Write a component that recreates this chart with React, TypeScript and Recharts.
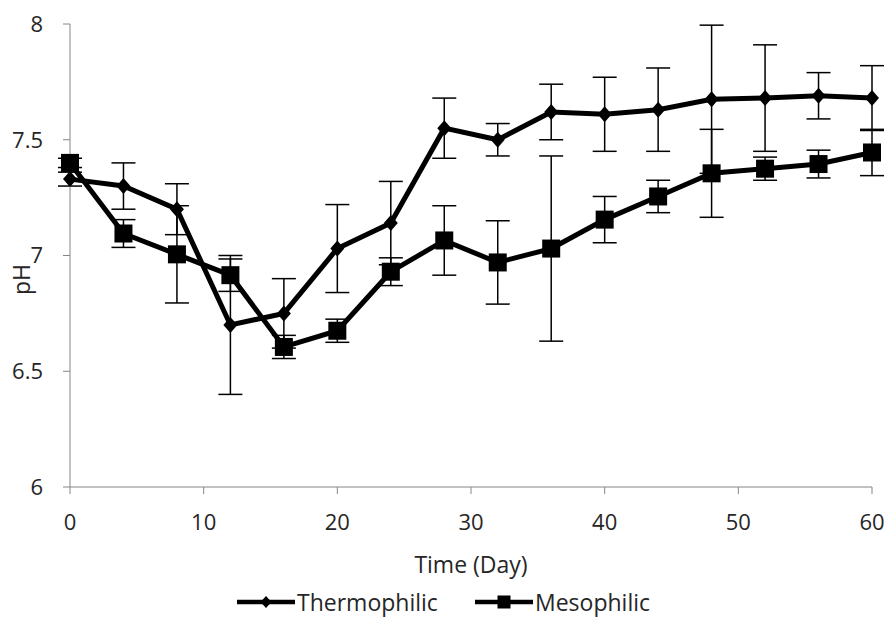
import React from 'react';
import {
  LineChart,
  Line,
  XAxis,
  YAxis,
  ErrorBar,
  Legend,
} from 'recharts';

const days = [0, 4, 8, 12, 16, 20, 24, 28, 32, 36, 40, 44, 48, 52, 56, 60];
const thermophilic = [7.33, 7.3, 7.2, 6.7, 6.75, 7.03, 7.14, 7.55, 7.5, 7.62, 7.61, 7.63, 7.675, 7.68, 7.69, 7.68];
const thermophilicErr = [0.03, 0.1, 0.11, 0.3, 0.15, 0.19, 0.18, 0.13, 0.07, 0.12, 0.16, 0.18, 0.32, 0.23, 0.1, 0.14];
const mesophilic = [7.4, 7.095, 7.005, 6.915, 6.605, 6.675, 6.93, 7.065, 6.97, 7.03, 7.155, 7.255, 7.355, 7.375, 7.395, 7.445];
const mesophilicErr = [0.02, 0.06, 0.21, 0.07, 0.05, 0.05, 0.06, 0.15, 0.18, 0.4, 0.1, 0.07, 0.19, 0.05, 0.06, 0.1];
const xTicks = [0, 10, 20, 30, 40, 50, 60];
const yTicks = [6, 6.5, 7, 7.5, 8];

const data = days.map((day, i) => ({
  day,
  thermo: thermophilic[i],
  thermoErr: thermophilicErr[i],
  meso: mesophilic[i],
  mesoErr: mesophilicErr[i],
}));

const FONT = '"Open Sans", sans-serif';
const AXIS = '#868686';
const TEXT = '#262626';

const Diamond = (props: any) => {
  const { cx, cy, index } = props;
  if (cx == null || cy == null) return <g key={index} />;
  return (
    <polygon
      key={index}
      points={`${cx},${cy - 8} ${cx + 7},${cy} ${cx},${cy + 8} ${cx - 7},${cy}`}
      fill="#000"
    />
  );
};

const Square = (props: any) => {
  const { cx, cy, index } = props;
  if (cx == null || cy == null) return <g key={index} />;
  return <rect key={index} x={cx - 9} y={cy - 9} width={18} height={18} fill="#000" />;
};

const legendItems = [
  { name: 'Thermophilic', shape: 'diamond', left: 237 },
  { name: 'Mesophilic', shape: 'square', left: 475 },
];

// drawn as svg so the labels sit inside the 42px legend box (y 577..619)
const renderLegend = () => (
  <svg width={872} height={42} style={{ display: 'block' }}>
    {legendItems.map((item) => {
      const mid = item.left + 29;
      const cy = 25;
      return (
        <g key={item.name}>
          <line x1={item.left} y1={cy} x2={item.left + 58} y2={cy} stroke="#000" strokeWidth={4.5} />
          {item.shape === 'diamond' ? (
            <polygon
              points={`${mid},${cy - 6} ${mid + 5.5},${cy} ${mid},${cy + 6} ${mid - 5.5},${cy}`}
              fill="#000"
            />
          ) : (
            <rect x={mid - 6.5} y={cy - 6.5} width={13} height={13} fill="#000" />
          )}
          <text
            x={item.left + 60}
            y={cy}
            dominantBaseline="central"
            fontFamily={FONT}
            fontSize={23}
            fill={TEXT}
          >
            {item.name}
          </text>
        </g>
      );
    })}
  </svg>
);

const YLabel = (props: any) => {
  const { viewBox } = props;
  const x = viewBox.x + 21;
  const y = viewBox.y + viewBox.height / 2 + 24;
  return (
    <text
      x={x}
      y={y}
      transform={`rotate(-90 ${x} ${y})`}
      textAnchor="middle"
      dominantBaseline="central"
      fontFamily={FONT}
      fontSize={23}
      fill={TEXT}
    >
      pH
    </text>
  );
};

export default function App() {
  return (
    <div style={{ position: 'absolute', left: 0, top: 0, background: '#fff' }}>
      <LineChart
        width={887}
        height={619}
        data={data}
        margin={{ top: 24, right: 15, bottom: 0, left: 0 }}
      >
        <XAxis
          type="number"
          dataKey="day"
          domain={[0, 60]}
          ticks={xTicks}
          height={90}
          stroke={AXIS}
          tickSize={7}
          tickMargin={20}
          tick={{ fontSize: 22, fill: TEXT, fontFamily: FONT }}
          label={{
            value: 'Time (Day)',
            position: 'insideBottom',
            offset: 4,
            fontSize: 23,
            fill: TEXT,
            fontFamily: FONT,
          }}
        />
        <YAxis
          type="number"
          domain={[6, 8]}
          ticks={yTicks}
          width={70}
          stroke={AXIS}
          tickSize={7}
          tickMargin={20}
          tick={{ fontSize: 22, fill: TEXT, fontFamily: FONT }}
          label={<YLabel />}
        />
        <Legend verticalAlign="bottom" height={42} content={renderLegend} />
        <Line
          type="linear"
          dataKey="thermo"
          name="Thermophilic"
          stroke="#000"
          strokeWidth={5}
          dot={Diamond}
          activeDot={false}
          isAnimationActive={false}
        >
          <ErrorBar dataKey="thermoErr" width={12} strokeWidth={1.5} stroke="#000" direction="y" />
        </Line>
        <Line
          type="linear"
          dataKey="meso"
          name="Mesophilic"
          stroke="#000"
          strokeWidth={5}
          dot={Square}
          activeDot={false}
          isAnimationActive={false}
        >
          <ErrorBar dataKey="mesoErr" width={12} strokeWidth={1.5} stroke="#000" direction="y" />
        </Line>
      </LineChart>
    </div>
  );
}
